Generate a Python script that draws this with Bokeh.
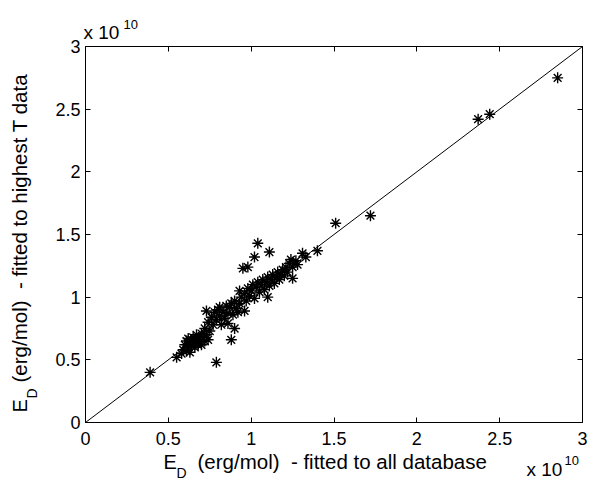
import math
from bokeh.plotting import figure
from bokeh.models import Range1d, LinearAxis, FixedTicker, Label, ColumnDataSource
from bokeh.embed import file_html
from bokeh.resources import INLINE

# ---- data (units of 1e10 erg/mol) ----
ed_all_database = [
    0.39, 0.55, 0.58, 0.59, 0.60, 0.61, 0.61, 0.62, 0.62, 0.63,
    0.63, 0.64, 0.64, 0.65, 0.65, 0.66, 0.66, 0.67, 0.67, 0.68,
    0.68, 0.69, 0.70, 0.70, 0.71, 0.72, 0.72, 0.73, 0.73, 0.74,
    0.74, 0.75, 0.76, 0.77, 0.78, 0.79, 0.79, 0.80, 0.81, 0.81,
    0.82, 0.83, 0.84, 0.85, 0.86, 0.86, 0.87, 0.88, 0.88, 0.89,
    0.90, 0.90, 0.91, 0.92, 0.93, 0.93, 0.94, 0.95, 0.96, 0.96,
    0.97, 0.98, 0.98, 0.99, 1.00, 1.01, 1.02, 1.02, 1.03, 1.04,
    1.04, 1.05, 1.06, 1.07, 1.08, 1.09, 1.10, 1.10, 1.11, 1.11,
    1.12, 1.13, 1.14, 1.15, 1.16, 1.17, 1.18, 1.19, 1.20, 1.21,
    1.22, 1.23, 1.24, 1.25, 1.25, 1.27, 1.28, 1.31, 1.33, 1.40,
    1.51, 1.72, 2.37, 2.44, 2.85,
]
ed_highest_t = [
    0.40, 0.52, 0.55, 0.58, 0.62, 0.57, 0.65, 0.60, 0.67, 0.63,
    0.56, 0.66, 0.61, 0.68, 0.63, 0.60, 0.66, 0.64, 0.70, 0.62,
    0.67, 0.65, 0.71, 0.62, 0.68, 0.65, 0.75, 0.89, 0.70, 0.66,
    0.80, 0.73, 0.84, 0.78, 0.88, 0.48, 0.82, 0.90, 0.92, 0.85,
    0.78, 0.88, 0.83, 0.93, 0.87, 0.79, 0.92, 0.66, 0.95, 0.86,
    0.75, 0.97, 0.91, 0.88, 1.05, 0.95, 1.00, 1.23, 0.89, 1.03,
    0.97, 1.24, 1.07, 1.01, 1.05, 1.10, 1.32, 0.99, 1.08, 1.43,
    1.12, 1.04, 1.10, 1.14, 1.06, 1.12, 1.00, 1.16, 1.36, 1.09,
    1.14, 1.18, 1.11, 1.16, 1.20, 1.14, 1.18, 1.22, 1.17, 1.24,
    1.20, 1.27, 1.30, 1.15, 1.24, 1.29, 1.26, 1.35, 1.32, 1.37,
    1.59, 1.65, 2.42, 2.46, 2.75,
]
tick_values = [0, 0.5, 1, 1.5, 2, 2.5, 3]
tick_labels = ["0", "0.5", "1", "1.5", "2", "2.5", "3"]
axis_range = [0, 3]
exponent_text = ["x 10", "10"]
x_label_parts = ["E", "D", "(erg/mol) \u00a0- fitted to all database"]
y_label_parts = ["E", "D", "(erg/mol) \u00a0- fitted to highest T data"]

FONT = "Liberation Sans"
W, H = 590, 480
# pixel placement of the axes box
BOX_L, BOX_R, BOX_T, BOX_B = 85, 582, 46, 422
lo, hi = axis_range
sx = (BOX_R - BOX_L) / (hi - lo)
sy = (BOX_B - BOX_T) / (hi - lo)


def dx(px):
    return lo + (px - BOX_L) / sx


def dy(py):
    return lo + (BOX_B - py) / sy


p = figure(width=W, height=H, output_backend="svg", toolbar_location=None,
           x_range=Range1d(dx(0), dx(W)), y_range=Range1d(dy(H), dy(0)),
           x_axis_location=None, y_axis_location=None,
           min_border=0)
p.xgrid.visible = False
p.ygrid.visible = False
p.outline_line_color = None
p.background_fill_color = "white"
p.border_fill_color = "white"

overrides = {v: t for v, t in zip(tick_values, tick_labels)}


def make_axis(fixed, show_labels, standoff):
    return LinearAxis(ticker=FixedTicker(ticks=tick_values), fixed_location=fixed,
                      bounds=(lo, hi), major_tick_in=5, major_tick_out=0,
                      minor_tick_in=0, minor_tick_out=0, axis_line_color="black",
                      axis_line_width=1, major_tick_line_color="black",
                      major_label_overrides=overrides, major_label_standoff=standoff,
                      major_label_text_font=FONT, major_label_text_font_size="18px",
                      major_label_text_color="black" if show_labels else None)


p.add_layout(make_axis(lo, True, 9), "below")
p.add_layout(make_axis(lo, True, 5), "left")
p.add_layout(make_axis(hi, False, 0), "above")
p.add_layout(make_axis(hi, False, 0), "right")

# identity line y = x across the axis range
p.line(axis_range, axis_range, line_color="black", line_width=1)

src = ColumnDataSource(dict(x=ed_all_database, y=ed_highest_t))
p.scatter("x", "y", source=src, marker="asterisk", size=11, line_color="black",
          line_width=1.4)


def add_text(txt, px, py, size, angle=0.0):
    p.add_layout(Label(x=dx(px), y=dy(py), text=txt, text_font=FONT,
                       text_font_size=f"{size}px", text_color="black",
                       text_align="left", text_baseline="middle", angle=angle))


# exponent labels (x, y = left edge, vertical centre in pixels)
add_text(exponent_text[0], 83, 32, 19)
add_text(exponent_text[1], 123, 24, 13)
add_text(exponent_text[0], 526, 469, 19)
add_text(exponent_text[1], 564, 460, 13)

# x axis label
x_pos = [(163, 461, 20), (176, 472, 14), (197, 461, 20.5)]
for w, (px, py, s) in zip(x_label_parts, x_pos):
    add_text(w, px, py, s)

# y axis label (rotated; x = centre column, y = starting (bottom) edge)
y_pos = [(19, 412, 20), (31, 398, 14), (19, 382, 20.5)]
for w, (px, py, s) in zip(y_label_parts, y_pos):
    add_text(w, px, py, s, angle=math.pi / 2)

open("out.html", "w").write(file_html(p, INLINE))
